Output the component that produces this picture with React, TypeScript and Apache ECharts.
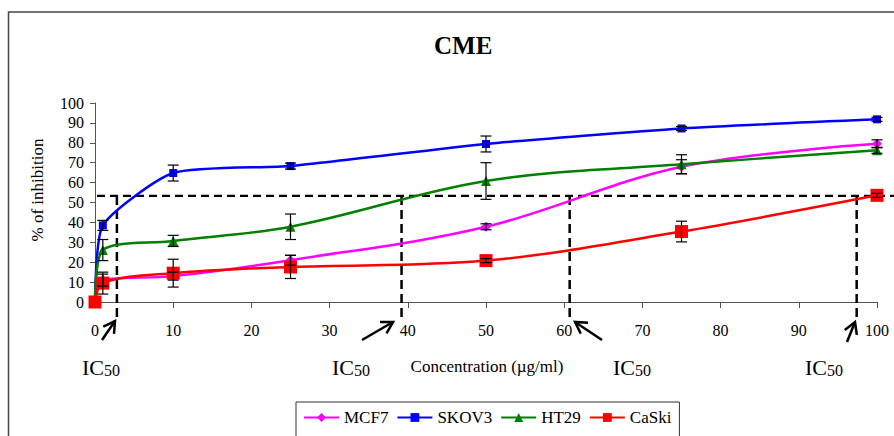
import React, { useEffect, useRef } from 'react';
import * as echarts from 'echarts';

// ---- data ----
const concentrations = [0, 1, 10, 25, 50, 75, 100];
const seriesNames = ['MCF7', 'SKOV3', 'HT29', 'CaSki'];
const mcf7 = [0, 11, 13, 21, 37.8, 68, 79.5];
const skov3 = [0, 38.5, 64.8, 68.3, 79.4, 87.2, 91.8];
const ht29 = [0, 26.1, 30.7, 37.8, 60.8, 69.2, 76.2];
const caski = [0, 9.5, 14.5, 17.6, 20.8, 35.4, 53.6];

const mcf7Err = [0, 3, 2, 2.5, 1.5, 3.5, 2];
const skov3Err = [0, 2.5, 4, 1.5, 4, 1, 1];
const ht29Err = [0, 5.3, 2.8, 6.4, 9.2, 4.8, 1.5];
const caskiErr = [0, 5.5, 7, 5.8, 1, 5.2, 1];

const ic50Level = 53.3;
const ic50Conc = [2.8, 39.2, 60.7, 97.4];

const xAxisTitle = 'Concentration (\u00b5g/ml)';
const yAxisTitle = '% of inhibition';
const chartTitle = 'CME';

const FONT = 'Liberation Serif, serif';

const lineStyles = [
  { color: '#FF00FF', symbol: 'diamond', size: 10, smooth: 0.35 },
  { color: '#0000FF', symbol: 'rect', size: 8, smooth: 0.2 },
  { color: '#008000', symbol: 'triangle', size: 10, smooth: 0.35 },
  { color: '#FF0000', symbol: 'rect', size: 13, smooth: 0.35 },
];

function arrow(tail: number[], tip: number[]) {
  const ang = Math.atan2(tail[1] - tip[1], tail[0] - tip[0]);
  const L = 13;
  const h = Math.PI / 6;
  const a1 = [tip[0] + L * Math.cos(ang + h), tip[1] + L * Math.sin(ang + h)];
  const a2 = [tip[0] + L * Math.cos(ang - h), tip[1] + L * Math.sin(ang - h)];
  return [
    { type: 'line', shape: { x1: tail[0], y1: tail[1], x2: tip[0], y2: tip[1] }, style: { stroke: '#000', lineWidth: 2.5 } },
    { type: 'polyline', shape: { points: [a1, tip, a2] }, style: { stroke: '#000', lineWidth: 2.5, fill: null } },
  ];
}

export default function App() {
  const ref = useRef<HTMLDivElement>(null);
  useEffect(() => {
    document.body.style.margin = '0';
    const chart = echarts.init(ref.current!, null, { renderer: 'svg' });
    const values = [mcf7, skov3, ht29, caski];
    const errs = [mcf7Err, skov3Err, ht29Err, caskiErr];

    const lineSeries = values.map((vals, i) => ({
      type: 'line',
      name: seriesNames[i],
      data: concentrations.map((c, j) => [c, vals[j]]),
      smooth: lineStyles[i].smooth,
      symbol: lineStyles[i].symbol,
      symbolSize: lineStyles[i].size,
      itemStyle: { color: lineStyles[i].color },
      lineStyle: { color: lineStyles[i].color, width: 2.5 },
      z: 3,
    }));

    const errSeries = values.map((vals, i) => ({
      type: 'custom',
      name: seriesNames[i] + ' err',
      silent: true,
      z: 4,
      data: concentrations
        .map((c, j) => [c, vals[j] - errs[i][j], vals[j] + errs[i][j], errs[i][j]])
        .filter((d) => d[3] > 0),
      encode: { x: 0, y: [1, 2] },
      renderItem: (params: any, api: any) => {
        const x = api.value(0);
        const p1 = api.coord([x, api.value(1)]);
        const p2 = api.coord([x, api.value(2)]);
        const w = 5.5;
        const st = { stroke: '#000', lineWidth: 1.2 };
        return {
          type: 'group',
          children: [
            { type: 'line', shape: { x1: p1[0], y1: p1[1], x2: p2[0], y2: p2[1] }, style: st },
            { type: 'line', shape: { x1: p1[0] - w, y1: p1[1], x2: p1[0] + w, y2: p1[1] }, style: st },
            { type: 'line', shape: { x1: p2[0] - w, y1: p2[1], x2: p2[0] + w, y2: p2[1] }, style: st },
          ],
        };
      },
    }));

    const icSeries = {
      type: 'custom',
      name: 'ic50',
      silent: true,
      z: 1,
      data: ic50Conc.map((c) => [c, ic50Level]),
      encode: { x: 0, y: 1 },
      renderItem: (params: any, api: any) => {
        const c = api.value(0);
        const lv = api.value(1);
        const top = api.coord([c, lv]);
        const base = api.coord([c, 0]);
        const children: any[] = [
          {
            type: 'line',
            shape: { x1: top[0], y1: top[1], x2: top[0], y2: base[1] + 16 },
            style: { stroke: '#000', lineWidth: 2.5, lineDash: [9, 5] },
          },
        ];
        if (params.dataIndex === 0) {
          const start = api.coord([0, lv]);
          children.push({
            type: 'line',
            shape: { x1: start[0] + 2, y1: start[1], x2: api.getWidth(), y2: start[1] },
            style: { stroke: '#000', lineWidth: 2.2, lineDash: [8, 5] },
          });
        }
        return { type: 'group', children };
      },
    };

    const icLabelX = [82, 332, 613, 805];
    const icLabels = icLabelX.map((x) => ({
      type: 'text',
      x,
      y: 378,
      style: {
        text: '{a|IC}{b|50}',
        verticalAlign: 'bottom',
        rich: {
          a: { fontFamily: FONT, fontSize: 22, color: '#000', verticalAlign: 'bottom' },
          b: { fontFamily: FONT, fontSize: 16, color: '#000', verticalAlign: 'bottom' },
        },
      },
    }));

    const arrows = [
      ...arrow([102, 340], [115, 321]),
      ...arrow([362, 340], [393, 322]),
      ...arrow([602, 340], [575, 322]),
      ...arrow([847, 342], [855, 322]),
    ];

    chart.setOption({
      animation: false,
      title: {
        text: chartTitle,
        left: 429,
        top: 28,
        textStyle: { fontFamily: FONT, fontSize: 25, fontWeight: 'bold', color: '#000' },
      },
      legend: {
        data: seriesNames,
        left: 296,
        top: 402,
        itemWidth: 35,
        itemHeight: 11,
        itemGap: 8,
        borderColor: '#333',
        borderWidth: 1,
        padding: [7, 8, 30, 7],
        textStyle: { fontFamily: FONT, fontSize: 17, color: '#000' },
      },
      grid: { left: 95, right: 17, top: 103, bottom: 134, outerBoundsMode: 'none' },
      xAxis: {
        type: 'value',
        min: 0,
        max: 100,
        interval: 10,
        axisLine: { show: true, lineStyle: { color: '#555', width: 1 } },
        axisTick: { show: true, length: 6, lineStyle: { color: '#555' } },
        axisLabel: { fontFamily: FONT, fontSize: 16, color: '#000', margin: 20 },
        splitLine: { show: false },
      },
      yAxis: {
        type: 'value',
        min: 0,
        max: 100,
        interval: 10,
        axisLine: { show: true, lineStyle: { color: '#555', width: 1 } },
        axisTick: { show: true, length: 5, lineStyle: { color: '#555' } },
        axisLabel: { fontFamily: FONT, fontSize: 16, color: '#000', margin: 11 },
        splitLine: { show: false },
      },
      graphic: [
        {
          type: 'rect',
          shape: { x: 8.5, y: 12, width: 1000, height: 1000 },
          style: { stroke: '#444', lineWidth: 1.5, fill: null },
          silent: true,
        },
        {
          type: 'text',
          x: 37,
          y: 190,
          rotation: Math.PI / 2,
          style: { text: yAxisTitle, fontFamily: FONT, fontSize: 17, fill: '#000', align: 'center', verticalAlign: 'middle' },
        },
        {
          type: 'text',
          x: 487,
          y: 366,
          style: { text: xAxisTitle, fontFamily: FONT, fontSize: 17, fill: '#000', align: 'center', verticalAlign: 'middle' },
        },
        ...icLabels,
        ...arrows,
      ],
      series: [icSeries, ...lineSeries, ...errSeries],
    });
    return () => chart.dispose();
  }, []);
  return <div ref={ref} style={{ width: 894, height: 436 }} />;
}
